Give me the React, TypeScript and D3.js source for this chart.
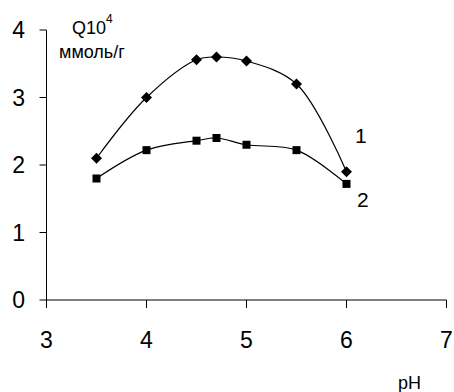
import React from "react";
import * as d3 from "d3";

const pH1 = [3.5, 4, 4.5, 4.7, 5, 5.5, 6];
const series1 = [2.1, 3.0, 3.56, 3.6, 3.54, 3.2, 1.9];
const pH2 = [3.5, 4, 4.5, 4.7, 5, 5.5, 6];
const series2 = [1.8, 2.22, 2.36, 2.4, 2.3, 2.22, 1.72];
const xTicks = [3, 4, 5, 6, 7];
const yTicks = [0, 1, 2, 3, 4];

export default function App() {
  const W = 454, H = 392;
  const x = d3.scaleLinear().domain([3, 7]).range([46.5, 446.5]);
  const y = d3.scaleLinear().domain([0, 4]).range([300, 30]);
  const line = d3
    .line<[number, number]>()
    .x((d) => x(d[0]))
    .y((d) => y(d[1]))
    .curve(d3.curveCatmullRom.alpha(0.5));
  const d1 = pH1.map((v, i) => [v, series1[i]] as [number, number]);
  const d2 = pH2.map((v, i) => [v, series2[i]] as [number, number]);
  const font = "Liberation Sans, Arial, sans-serif";
  return (
    <svg
      width={W}
      height={H}
      style={{ position: "absolute", left: 0, top: 0, background: "#fff" }}
      fontFamily={font}
    >
      <rect width={W} height={H} fill="#fff" />
      {/* axes */}
      <line x1={x(3)} x2={x(7)} y1={y(0)} y2={y(0)} stroke="#000" strokeWidth={1} />
      <line x1={x(3)} x2={x(3)} y1={y(0)} y2={y(4)} stroke="#000" strokeWidth={1} />
      {xTicks.map((t) => (
        <g key={"x" + t}>
          <line x1={x(t)} x2={x(t)} y1={y(0)} y2={y(0) + 8} stroke="#000" />
          <text x={x(t)} y={348} fontSize={23} textAnchor="middle" fill="#000">
            {t}
          </text>
        </g>
      ))}
      {yTicks.map((t) => (
        <g key={"y" + t}>
          <line x1={x(3) - 7} x2={x(3)} y1={y(t)} y2={y(t)} stroke="#000" />
          <text x={25} y={y(t) + 8} fontSize={23} textAnchor="end" fill="#000">
            {t}
          </text>
        </g>
      ))}
      {/* curves */}
      <path d={line(d1) || ""} fill="none" stroke="#000" strokeWidth={1.2} />
      <path d={line(d2) || ""} fill="none" stroke="#000" strokeWidth={1.2} />
      {d1.map((d, i) => {
        const cx = x(d[0]), cy = y(d[1]);
        return (
          <path
            key={"m1" + i}
            d={`M${cx},${cy - 5.5}L${cx + 5.5},${cy}L${cx},${cy + 5.5}L${cx - 5.5},${cy}Z`}
            fill="#000"
          />
        );
      })}
      {d2.map((d, i) => (
        <rect key={"m2" + i} x={x(d[0]) - 4} y={y(d[1]) - 4} width={8} height={8} fill="#000" />
      ))}
      {/* labels */}
      <text x={355} y={143} fontSize={21} fill="#000">1</text>
      <text x={357} y={207} fontSize={21} fill="#000">2</text>
      <text x={72} y={34} fontSize={18} fill="#000">
        Q10
        <tspan fontSize={12} dy={-11}>4</tspan>
      </text>
      <text x={59} y={58} fontSize={18} fill="#000">ммоль/г</text>
      <text x={398} y={389} fontSize={18} fill="#000">pH</text>
    </svg>
  );
}
